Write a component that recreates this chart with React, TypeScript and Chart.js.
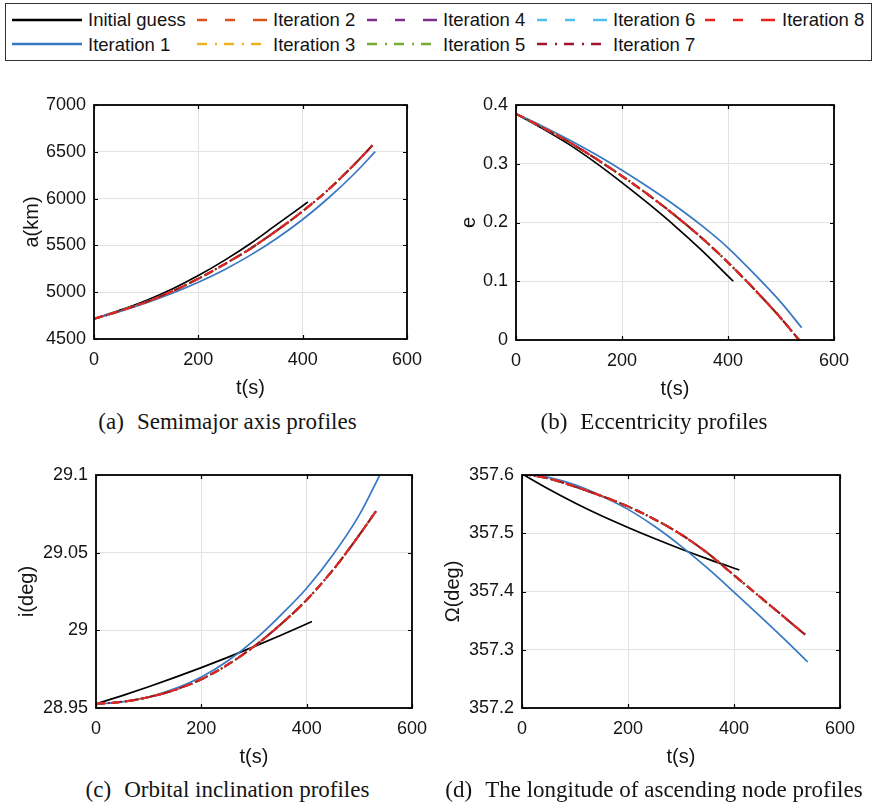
import React, { useEffect, useRef } from 'react';
import { Chart, registerables } from 'chart.js';

Chart.register(...registerables);

// ---------- data ----------
const seriesNames = [
  'Initial guess', 'Iteration 1', 'Iteration 2', 'Iteration 3', 'Iteration 4',
  'Iteration 5', 'Iteration 6', 'Iteration 7', 'Iteration 8',
];

const tGuess = [0, 50, 100, 150, 200, 250, 300, 350, 410];
const tIter1 = [0, 50, 100, 150, 200, 250, 300, 350, 400, 450, 500, 539];
const tConv = [0, 50, 100, 150, 200, 250, 300, 350, 400, 450, 500, 534];

// semimajor axis (km)
const aGuess = [4715, 4808, 4912, 5035, 5178, 5340, 5520, 5722, 5963];
const aIter1 = [4715, 4795, 4885, 4988, 5106, 5241, 5396, 5574, 5777, 6009, 6271, 6501];
const aConv = [4715, 4800, 4895, 5010, 5144, 5298, 5466, 5658, 5865, 6100, 6370, 6570];

// eccentricity
const eGuess = [0.385, 0.36, 0.333, 0.302, 0.268, 0.232, 0.194, 0.153, 0.1];
const eIter1 = [0.385, 0.364, 0.341, 0.316, 0.289, 0.26, 0.229, 0.195, 0.157, 0.112, 0.064, 0.021];
const eConv = [0.385, 0.362, 0.337, 0.309, 0.279, 0.247, 0.212, 0.174, 0.132, 0.086, 0.037, 0.0];

// inclination (deg)
const iGuess = [28.9526, 28.958, 28.9637, 28.9697, 28.976, 28.9826, 28.9895, 28.9967, 29.0057];
const iIter1 = [28.9526, 28.954, 28.9571, 28.9625, 28.97, 28.9803, 28.9935, 29.0095, 29.0271, 29.0486, 29.0743, 29.1];
const iConv = [28.9526, 28.954, 28.957, 28.9617, 28.9685, 28.9779, 28.9896, 29.0036, 29.0196, 29.0389, 29.0614, 29.0779];

// longitude of ascending node (deg)
const raanGuess = [357.602, 357.576, 357.552, 357.53, 357.51, 357.491, 357.473, 357.456, 357.437];
const raanIter1 = [357.602, 357.596, 357.583, 357.564, 357.541, 357.512, 357.478, 357.44, 357.399, 357.357, 357.314, 357.279];
const raanConv = [357.602, 357.594, 357.58, 357.564, 357.546, 357.524, 357.498, 357.466, 357.428, 357.39, 357.352, 357.326];

// ticks
const xTicks = [0, 200, 400, 600];
const aTicks = [4500, 5000, 5500, 6000, 6500, 7000];
const eTicks = [0, 0.1, 0.2, 0.3, 0.4];
const iTicks = [28.95, 29, 29.05, 29.1];
const raanTicks = [357.2, 357.3, 357.4, 357.5, 357.6];

// ---------- styles ----------
const SANS = "'Liberation Sans', Arial, Helvetica, sans-serif";
const SERIF = "'Liberation Serif', 'Times New Roman', Times, serif";
const TEXT = '#141414';

const seriesStyles = [
  { color: '#000000', dash: [] as number[], width: 1.7, legendDash: '' },
  { color: '#3778c2', dash: [] as number[], width: 1.7, legendDash: '' },
  { color: '#D95319', dash: [9, 6], width: 2, legendDash: '10 18 10 18 14 0' },
  { color: '#EDB120', dash: [9, 3, 2, 3], width: 2, legendDash: '10 8 2 7' },
  { color: '#7E2F8E', dash: [9, 6], width: 2, legendDash: '10 18 10 18 14 0' },
  { color: '#77AC30', dash: [9, 3, 2, 3], width: 2, legendDash: '10 8 2 7' },
  { color: '#4DBEEE', dash: [9, 6], width: 2, legendDash: '10 18 10 18 14 0' },
  { color: '#A2142F', dash: [9, 3, 2, 3], width: 2, legendDash: '10 8 2 7' },
  { color: '#E8231B', dash: [9, 6], width: 2, legendDash: '10 18 10 18 14 0' },
];

type Geo = { cl: number; ct: number; cw: number; ch: number; L: number; T: number; R: number; B: number; W: number; H: number };

const boxPlugin = {
  id: 'matlabBox',
  afterDatasetsDraw(chart: any) {
    const { ctx, chartArea, scales } = chart;
    const { left, top, right, bottom } = chartArea;
    const tl = 4;
    ctx.save();
    ctx.strokeStyle = '#000';
    ctx.lineWidth = 1.2;
    ctx.beginPath();
    scales.x.ticks.forEach((t: any) => {
      const px = Math.round(scales.x.getPixelForValue(t.value)) + 0.5;
      ctx.moveTo(px, bottom); ctx.lineTo(px, bottom - tl);
      ctx.moveTo(px, top); ctx.lineTo(px, top + tl);
    });
    scales.y.ticks.forEach((t: any) => {
      const py = Math.round(scales.y.getPixelForValue(t.value)) + 0.5;
      ctx.moveTo(left, py); ctx.lineTo(left + tl, py);
      ctx.moveTo(right, py); ctx.lineTo(right - tl, py);
    });
    ctx.stroke();
    ctx.lineWidth = 1.8;
    ctx.strokeRect(left, top, right - left, bottom - top);
    ctx.restore();
  },
};

type PanelProps = {
  geo: Geo;
  yTitle: string;
  yTicks: number[];
  fmt: (v: number) => string;
  guess: number[];
  iter1: number[];
  conv: number[];
};

function Panel({ geo, yTitle, yTicks, fmt, guess, iter1, conv }: PanelProps) {
  const ref = useRef<HTMLCanvasElement | null>(null);
  useEffect(() => {
    if (!ref.current) return;
    const pick = (k: number) =>
      k === 0 ? { t: tGuess, v: guess } : k === 1 ? { t: tIter1, v: iter1 } : { t: tConv, v: conv };
    const datasets = seriesNames.map((name, k) => {
      const s = pick(k);
      const st = seriesStyles[k];
      return {
        label: name,
        data: s.t.map((t, i) => ({ x: t, y: s.v[i] })),
        borderColor: st.color,
        backgroundColor: st.color,
        borderWidth: st.width,
        borderDash: st.dash,
        borderCapStyle: 'butt' as const,
        pointRadius: 0,
        fill: false,
        cubicInterpolationMode: 'monotone' as const,
        order: seriesNames.length - k,
      };
    });
    const g = geo;
    const chart = new Chart(ref.current, {
      type: 'line',
      data: { datasets },
      options: {
        animation: false,
        responsive: false,
        maintainAspectRatio: false,
        devicePixelRatio: 1,
        events: [],
        layout: {
          padding: {
            left: g.L - g.W - g.cl,
            top: g.T - g.ct,
            right: g.cl + g.cw - g.R,
            bottom: g.ct + g.ch - g.B - g.H,
          },
        },
        plugins: { legend: { display: false }, tooltip: { enabled: false } },
        scales: {
          x: {
            type: 'linear',
            min: xTicks[0],
            max: xTicks[xTicks.length - 1],
            afterBuildTicks: (s: any) => { s.ticks = xTicks.map((v) => ({ value: v })); },
            afterFit: (s: any) => { s.height = g.H; },
            border: { display: false },
            grid: { color: '#e2e2e2', lineWidth: 1, drawTicks: false },
            ticks: {
              padding: 10, autoSkip: false, maxRotation: 0, color: TEXT,
              font: { family: SANS, size: 18 },
              callback: (v: any) => String(v),
            },
            title: { display: true, text: 't(s)', color: TEXT, padding: 0, font: { family: SANS, size: 20 } },
          },
          y: {
            type: 'linear',
            min: yTicks[0],
            max: yTicks[yTicks.length - 1],
            afterBuildTicks: (s: any) => { s.ticks = yTicks.map((v) => ({ value: v })); },
            afterFit: (s: any) => { s.width = g.W; },
            border: { display: false },
            grid: { color: '#e2e2e2', lineWidth: 1, drawTicks: false },
            ticks: {
              padding: 8, autoSkip: false, color: TEXT,
              font: { family: SANS, size: 18 },
              callback: (v: any) => fmt(Number(v)),
            },
            title: { display: true, text: yTitle, color: TEXT, padding: 0, font: { family: SANS, size: 20 } },
          },
        },
      },
      plugins: [boxPlugin],
    } as any);
    return () => chart.destroy();
  }, []);
  return (
    <canvas
      ref={ref}
      width={geo.cw}
      height={geo.ch}
      style={{ position: 'absolute', left: geo.cl, top: geo.ct, width: geo.cw, height: geo.ch }}
    />
  );
}

const geoA: Geo = { cl: 0, ct: 80, cw: 437, ch: 324, L: 94, T: 105, R: 407, B: 339, W: 74, H: 61 };
const geoB: Geo = { cl: 430, ct: 80, cw: 444, ch: 325, L: 516, T: 105, R: 834, B: 340, W: 59, H: 61 };
const geoC: Geo = { cl: 0, ct: 450, cw: 437, ch: 323, L: 96, T: 475, R: 414, B: 708, W: 81, H: 61 };
const geoD: Geo = { cl: 430, ct: 450, cw: 444, ch: 323, L: 522, T: 475, R: 840, B: 708, W: 81, H: 61 };

const legendLineX = [12, 197, 367, 537, 705];
const legendTextX = [88, 273, 443, 613, 782];
const legendRowY = [20, 44.5];

function Legend() {
  return (
    <div>
      <div
        style={{
          position: 'absolute', left: 5, top: 3, width: 867, height: 58,
          border: '1.5px solid #333', boxSizing: 'border-box', background: '#fff',
        }}
      />
      {seriesNames.map((name, k) => {
        const col = Math.floor(k / 2);
        const row = k % 2;
        const st = seriesStyles[k];
        const cy = legendRowY[row];
        return (
          <React.Fragment key={name}>
            <svg
              width={70}
              height={8}
              style={{ position: 'absolute', left: legendLineX[col], top: cy - 4.5 }}
            >
              <line
                x1={0} y1={4} x2={70} y2={4}
                stroke={st.color}
                strokeWidth={2.6}
                strokeDasharray={st.legendDash || undefined}
              />
            </svg>
            <div
              style={{
                position: 'absolute', left: legendTextX[col], top: cy - 12, height: 24,
                lineHeight: '24px', fontFamily: SANS, fontSize: 18.5, color: TEXT, whiteSpace: 'nowrap',
              }}
            >
              {name}
            </div>
          </React.Fragment>
        );
      })}
    </div>
  );
}

function Caption({ tag, text, cx, cy }: { tag: string; text: string; cx: number; cy: number }) {
  return (
    <div
      style={{
        position: 'absolute', left: cx - 250, width: 500, top: cy - 14, height: 28,
        lineHeight: '28px', textAlign: 'center', fontFamily: SERIF, fontSize: 23,
        color: TEXT, whiteSpace: 'nowrap',
      }}
    >
      <span>{tag}</span>
      <span style={{ marginLeft: 13 }}>{text}</span>
    </div>
  );
}

export default function App() {
  const f0 = (v: number) => String(v);
  const f2 = (v: number) => String(Number(v.toFixed(2)));
  const f3 = (v: number) => String(Number(v.toFixed(3)));
  const f1 = (v: number) => v.toFixed(1);
  return (
    <div style={{ position: 'absolute', left: 0, top: 0, width: 874, height: 808, background: '#fff', overflow: 'hidden' }}>
      <Legend />
      <Panel geo={geoA} yTitle="a(km)" yTicks={aTicks} fmt={f0} guess={aGuess} iter1={aIter1} conv={aConv} />
      <Panel geo={geoB} yTitle="e" yTicks={eTicks} fmt={f2} guess={eGuess} iter1={eIter1} conv={eConv} />
      <Panel geo={geoC} yTitle="i(deg)" yTicks={iTicks} fmt={f3} guess={iGuess} iter1={iIter1} conv={iConv} />
      <Panel geo={geoD} yTitle="Ω(deg)" yTicks={raanTicks} fmt={f1} guess={raanGuess} iter1={raanIter1} conv={raanConv} />
      <Caption tag="(a)" text="Semimajor axis profiles" cx={227.5} cy={422} />
      <Caption tag="(b)" text="Eccentricity profiles" cx={654} cy={422} />
      <Caption tag="(c)" text="Orbital inclination profiles" cx={227.5} cy={790} />
      <Caption tag="(d)" text="The longitude of ascending node profiles" cx={654} cy={790} />
    </div>
  );
}
